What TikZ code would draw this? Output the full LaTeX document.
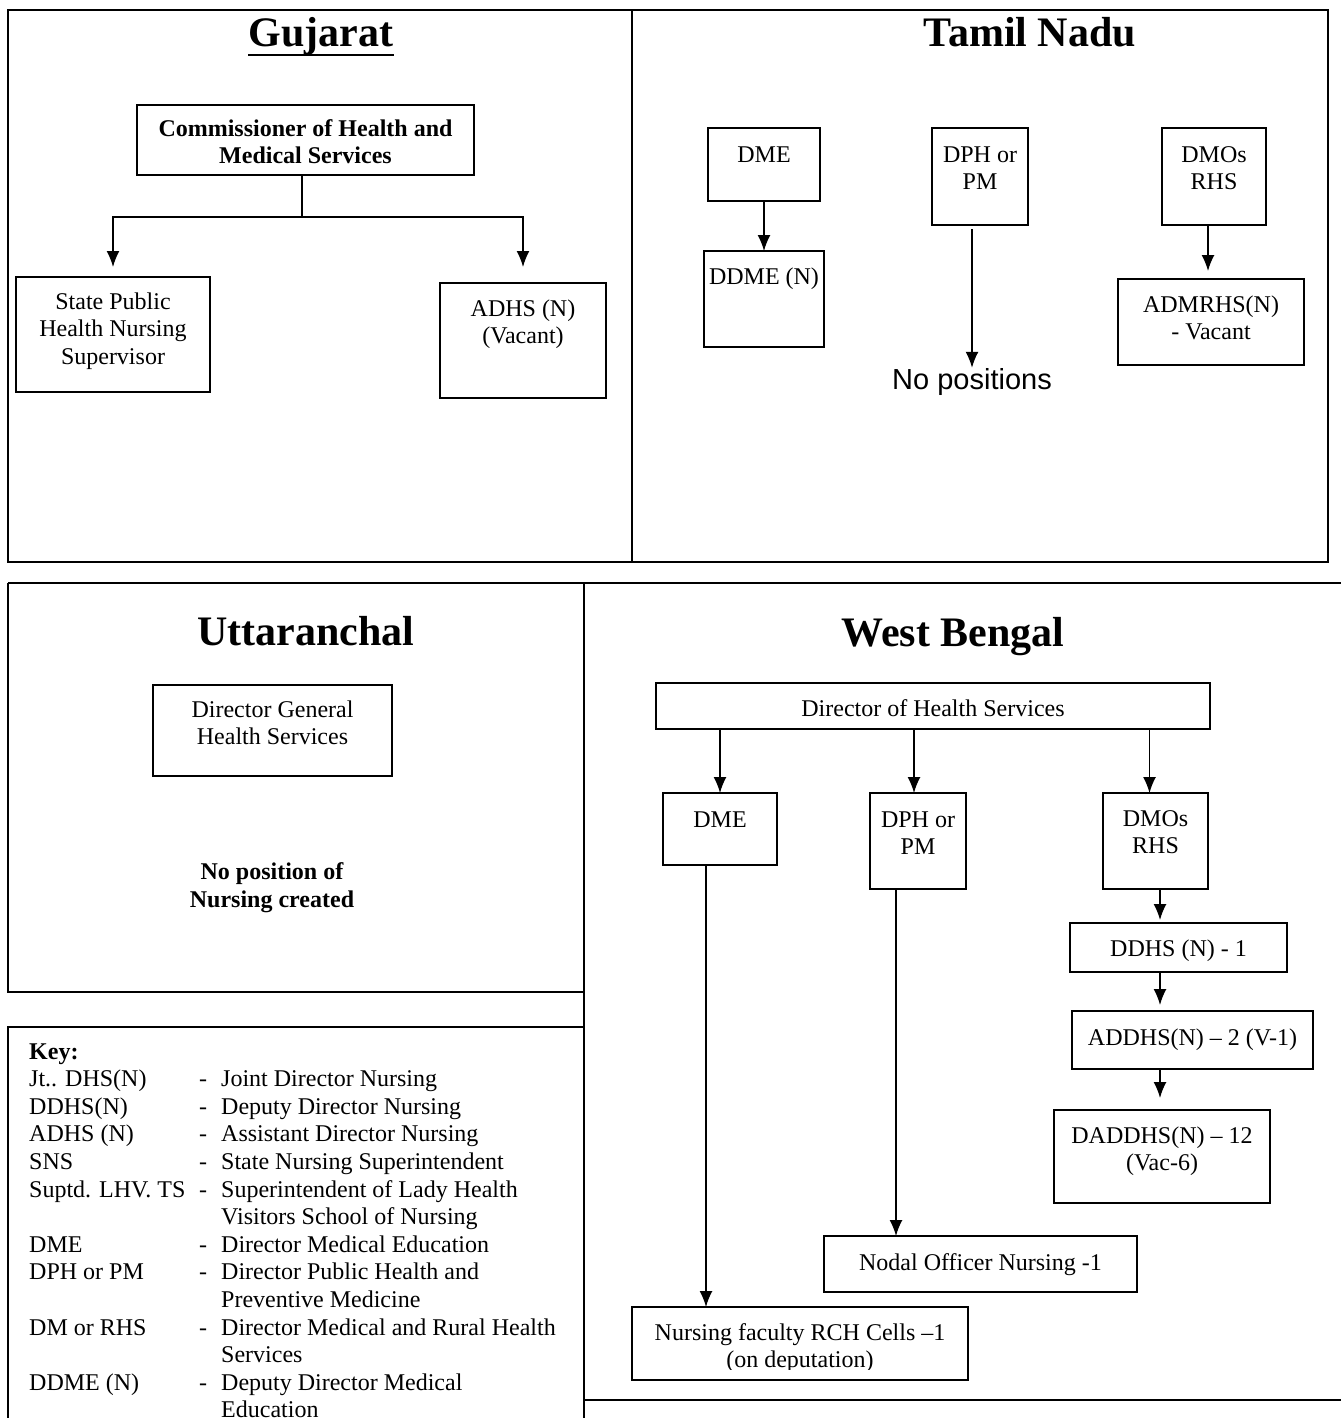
\documentclass[tikz,border=0pt]{standalone}
\usepackage{fontspec}
\setmainfont{Liberation Serif}
\newfontfamily\arialfont{Liberation Sans}
\usepackage{tikz}
\usetikzlibrary{positioning,arrows.meta}
\newcommand\bodysize{\fontsize{24}{27.6}\selectfont}
\tikzset{box/.style={draw,line width=1.5pt,inner sep=0pt,outer sep=0pt,anchor=north west} }
\tikzset{lbl/.style={anchor=base,align=center,inner sep=0pt} }
\tikzset{bold/.style={font=\bodysize\bfseries} }
\tikzset{title/.style={anchor=base,inner sep=0pt,font=\fontsize{42}{48}\selectfont\bfseries} }
\tikzset{rule/.style={line width=1.6pt} }
\tikzset{arr/.style={line width=1.5pt,-{Latex[length=16pt,width=13pt]}} }

\begin{document}
\begin{tikzpicture}[x=1pt,y=-1pt,font=\bodysize]
    \useasboundingbox (0,0) rectangle (1341,1418);
    % frames
    \draw[rule] (8,10) rectangle (1328,562);
    \draw[rule] (632,10) -- (632,562);
    \draw[rule] (8,583) -- (1341,583);
    \draw[rule] (8,583) -- (8,992) -- (584,992);
    \draw[rule] (584,583) -- (584,1418);
    \draw[rule] (584,1400) -- (1341,1400);
    \draw[rule] (8,1418) -- (8,1027) -- (584,1027);

    % Gujarat
    \node[title] (gj-title) at (321,47) {Gujarat};
    \draw[line width=2.5pt] ([yshift=-8pt]gj-title.base west) -- ([yshift=-8pt]gj-title.base east);
    \node[box,minimum width=337pt,minimum height=70pt] (gj-com) at (137,105) {};
    \begin{scope}
        \clip (137,105) rectangle (474,165);
        \node[lbl,bold] (gj-com-t) at ([yshift=-58.6pt]gj-com.north) {Commissioner of Health and\\Medical Services};
    \end{scope}
    \node[box,minimum width=194pt,minimum height=115pt] (gj-sph) at (16,277) {};
    \node[lbl] (gj-sph-t) at ([yshift=-87.2pt]gj-sph.north) {State Public\\Health Nursing\\Supervisor};
    \node[box,minimum width=166pt,minimum height=115pt] (gj-adhs) at (440,283) {};
    \node[lbl] (gj-adhs-t) at ([yshift=-60.6pt]gj-adhs.north) {ADHS (N)\\(Vacant)};
    \coordinate (gj-split) at (302,217);
    \draw[rule] (gj-split |- gj-com.south) -- (gj-split);
    \draw[arr] (gj-split) -| ([yshift=10pt]gj-sph.north);
    \draw[arr] (gj-split) -| ([yshift=16pt]gj-adhs.north);

    % Tamil Nadu
    \node[title] (tn-title) at (1030,47) {Tamil Nadu};
    \node[box,minimum width=112pt,minimum height=73pt] (tn-dme) at (708,128) {};
    \node[lbl] (tn-dme-t) at ([yshift=-34pt]tn-dme.north) {DME};
    \node[box,minimum width=120pt,minimum height=96pt] (tn-ddme) at (704,251) {};
    \node[lbl] (tn-ddme-t) at ([yshift=-33pt]tn-ddme.north) {DDME (N)};
    \node[box,minimum width=96pt,minimum height=97pt] (tn-dph) at (932,128) {};
    \node[lbl] (tn-dph-t) at ([yshift=-61.6pt]tn-dph.north) {DPH or\\PM};
    \node[box,minimum width=104pt,minimum height=97pt] (tn-dmo) at (1162,128) {};
    \node[lbl] (tn-dmo-t) at ([yshift=-61.6pt]tn-dmo.north) {DMOs\\RHS};
    \node[box,minimum width=186pt,minimum height=86pt] (tn-admr) at (1118,279) {};
    \node[lbl] (tn-admr-t) at ([yshift=-60.6pt]tn-admr.north) {ADMRHS(N)\\- Vacant};
    \node[lbl,font=\arialfont\fontsize{29}{33}\selectfont] (tn-nopos) at (972,389) {No positions};
    \coordinate (tn-col) at (1208,0);
    \draw[arr] (tn-dme.south) -- (tn-ddme.north);
    \draw[arr] ([yshift=-4pt]tn-dph.south -| tn-nopos.north) -- (tn-nopos.north);
    \draw[arr] (tn-dmo.south -| tn-col) -- ([yshift=8pt]tn-admr.north -| tn-col);

    % Uttaranchal
    \node[title] (ut-title) at (306,645) {Uttaranchal};
    \node[box,minimum width=239pt,minimum height=91pt] (ut-dg) at (153,685) {};
    \node[lbl] (ut-dg-t) at ([yshift=-59.6pt]ut-dg.north) {Director General\\Health Services};
    \node[lbl,bold] (ut-none) at (272,907.5) {No position of\\Nursing created};

    % key
    \node[anchor=base west,inner sep=0pt] (key) at (29,1059) {%
        \begin{tabular}[t]{@{}p{170pt}@{}p{22pt}@{}l@{}}
            \textbf{Key:} & & \\
            Jt.. DHS(N) & - & Joint Director Nursing\\
            DDHS(N) & - & Deputy Director Nursing\\
            ADHS (N) & - & Assistant Director Nursing\\
            SNS & - & State Nursing Superintendent\\
            Suptd. LHV. TS & - & Superintendent of Lady Health\\
            & & Visitors School of Nursing\\
            DME & - & Director Medical Education\\
            DPH or PM & - & Director Public Health and\\
            & & Preventive Medicine\\
            DM or RHS & - & Director Medical and Rural Health\\
            & & Services\\
            DDME (N) & - & Deputy Director Medical\\
            & & Education
        \end{tabular}};

    % West Bengal
    \node[title] (wb-title) at (953,646) {West Bengal};
    \node[box,minimum width=554pt,minimum height=46pt] (wb-dhs) at (656,683) {};
    \node[lbl] (wb-dhs-t) at ([yshift=-33pt]wb-dhs.north) {Director of Health Services};
    \node[box,minimum width=114pt,minimum height=72pt] (wb-dme) at (663,793) {};
    \node[lbl] (wb-dme-t) at ([yshift=-34pt]wb-dme.north) {DME};
    \node[box,minimum width=96pt,minimum height=96pt] (wb-dph) at (870,793) {};
    \node[lbl] (wb-dph-t) at ([yshift=-61.6pt]wb-dph.north) {DPH or\\PM};
    \node[box,minimum width=105pt,minimum height=96pt] (wb-dmo) at (1103,793) {};
    \node[lbl] (wb-dmo-t) at ([yshift=-60.6pt]wb-dmo.north) {DMOs\\RHS};
    \node[box,minimum width=217pt,minimum height=49pt] (wb-ddhs) at (1070,923) {};
    \node[lbl] (wb-ddhs-t) at ([yshift=-33pt]wb-ddhs.north) {DDHS (N) - 1};
    \node[box,minimum width=241pt,minimum height=58pt] (wb-addhs) at (1072,1011) {};
    \node[lbl] (wb-addhs-t) at ([yshift=-34pt]wb-addhs.north) {ADDHS(N) -- 2 (V-1)};
    \node[box,minimum width=216pt,minimum height=93pt] (wb-daddhs) at (1054,1110) {};
    \node[lbl] (wb-daddhs-t) at ([yshift=-60.6pt]wb-daddhs.north) {DADDHS(N) -- 12\\(Vac-6)};
    \node[box,minimum width=313pt,minimum height=56pt] (wb-nodal) at (824,1236) {};
    \node[lbl] (wb-nodal-t) at ([yshift=-34pt]wb-nodal.north) {Nodal Officer Nursing -1};
    \node[box,minimum width=336pt,minimum height=73pt] (wb-rch) at (632,1307) {};
    \begin{scope}
        \clip (632,1307) rectangle (968,1369);
        \node[lbl] (wb-rch-t) at ([yshift=-60.6pt]wb-rch.north) {Nursing faculty RCH Cells --1\\(on deputation)};
    \end{scope}
    \coordinate (wb-col) at (1160,0);
    \coordinate (wb-dmecol) at (706,0);
    \coordinate (wb-dphcol) at (896,0);
    \draw[arr] (wb-dhs.south -| wb-dme.north) -- (wb-dme.north);
    \draw[arr] ([xshift=-4pt]wb-dph.north |- wb-dhs.south) -- ([xshift=-4pt]wb-dph.north);
    \draw[arr] ([xshift=-6pt]wb-dmo.north |- wb-dhs.south) -- ([xshift=-6pt]wb-dmo.north);
    \draw[arr] (wb-dmo.south -| wb-col) -- ([yshift=3pt]wb-ddhs.north -| wb-col);
    \draw[arr] (wb-ddhs.south -| wb-col) -- ([yshift=6pt]wb-addhs.north -| wb-col);
    \draw[arr] (wb-addhs.south -| wb-col) -- ([yshift=12pt]wb-daddhs.north -| wb-col);
    \draw[arr] (wb-dme.south -| wb-dmecol) -- (wb-rch.north -| wb-dmecol);
    \draw[arr] (wb-dph.south -| wb-dphcol) -- (wb-nodal.north -| wb-dphcol);
\end{tikzpicture}
\end{document}
